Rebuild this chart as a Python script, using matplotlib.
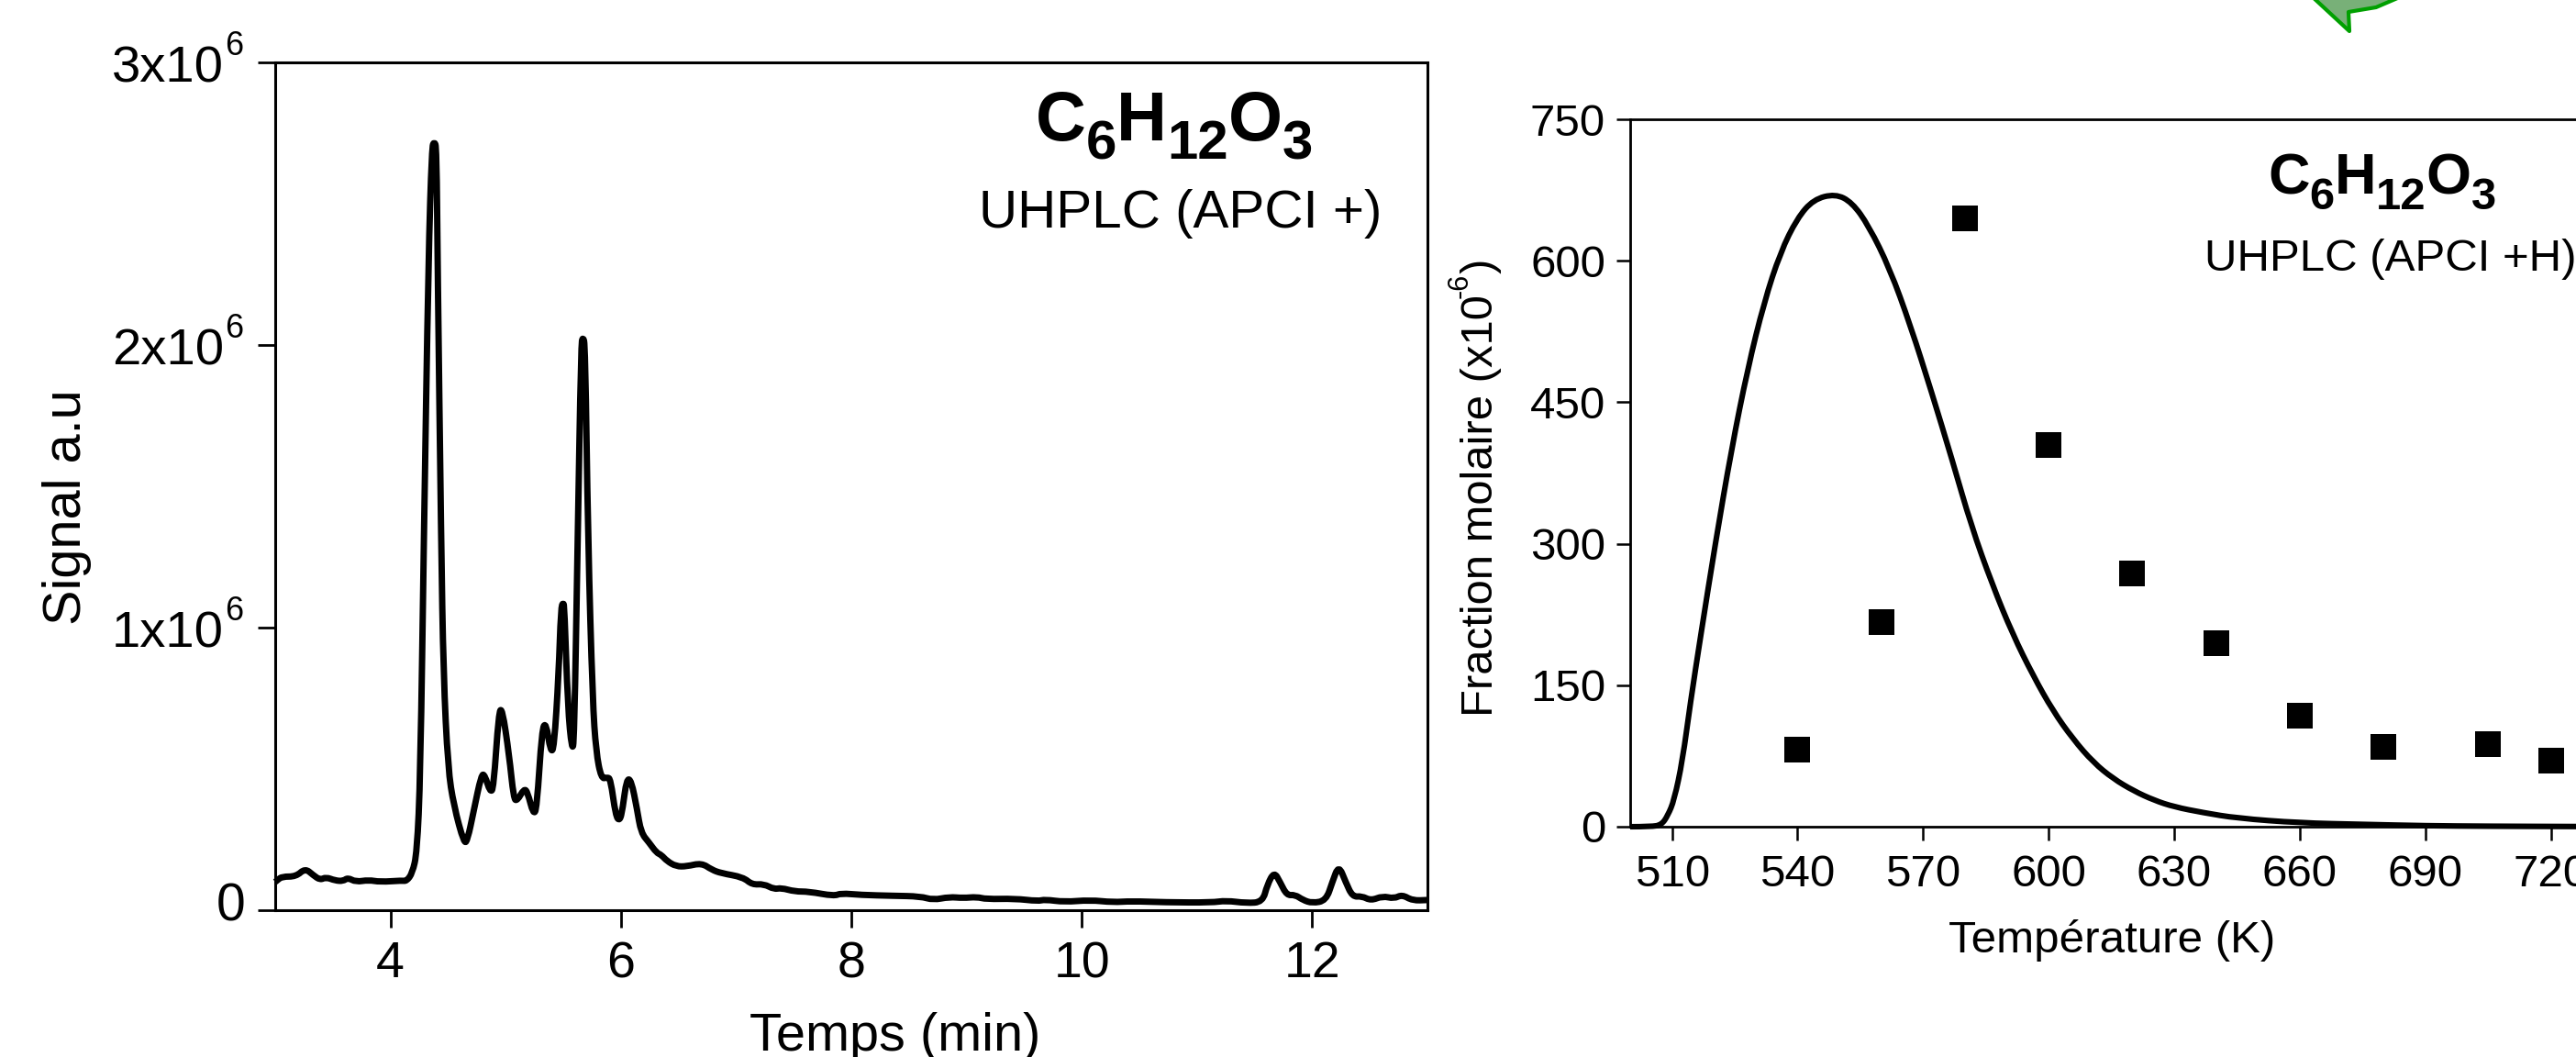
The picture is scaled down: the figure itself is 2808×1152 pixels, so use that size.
import matplotlib
matplotlib.use('Agg')
import matplotlib.pyplot as plt
from matplotlib.patches import PathPatch, Polygon
from matplotlib.path import Path

plt.rcParams['font.family'] = ['Liberation Sans', 'DejaVu Sans']

# chromatogram
tempsMin = [3.0, 3.02, 3.06, 3.18, 3.26, 3.33, 3.39, 3.44, 3.52, 3.59, 3.63, 3.70, 3.81, 3.91, 4.10, 4.14,
            4.19, 4.23, 4.26, 4.29, 4.33, 4.36, 4.38, 4.40, 4.41, 4.44, 4.46, 4.50, 4.55, 4.64, 4.67, 4.72,
            4.79, 4.82, 4.865, 4.895, 4.94, 4.97, 5.03, 5.07, 5.10, 5.16, 5.19, 5.24, 5.27, 5.315, 5.35,
            5.39, 5.42, 5.46, 5.48, 5.50, 5.51, 5.54, 5.575, 5.595, 5.625, 5.655, 5.67, 5.69, 5.715, 5.755,
            5.785, 5.83, 5.88, 5.91, 5.955, 5.99, 6.015, 6.05, 6.09, 6.14, 6.175, 6.245, 6.31, 6.35, 6.40,
            6.48, 6.57, 6.70, 6.79, 6.87, 7.06, 7.14, 7.24, 7.33, 7.39, 7.51, 7.63, 7.85, 7.91, 8.08, 8.36,
            8.6, 8.71, 8.85, 8.97, 9.09, 9.17, 9.42, 9.62, 9.68, 9.85, 10.07, 10.27, 10.43, 10.72, 11.13,
            11.25, 11.43, 11.57, 11.61, 11.67, 11.72, 11.78, 11.85, 11.92, 12.0, 12.12, 12.175, 12.23, 12.29,
            12.35, 12.43, 12.51, 12.61, 12.71, 12.78, 12.87, 13.0]
signal = [.10, .107, .119, .119, .148, .124, .107, .117, .105, .103, .115, .100, .107, .100, .105, .103,
          .131, .203, .477, 1.31, 2.31, 2.70, 2.72, 2.70, 2.27, 1.31, .835, .50, .37, .234, .25, .346,
          .482, .477, .418, .43, .70, .715, .55, .394, .387, .43, .418, .339, .358, .640, .665,
          .56, .573, .835, 1.07, 1.09, 1.07, .716, .566, .597, 1.31, 2.0, 2.03, 2.0, 1.31, .74,
          .56, .465, .47, .465, .334, .315, .358, .465, .46, .358, .274, .239, .203, .196, .174,
          .155, .155, .167, .143, .131, .117, .09, .093, .074, .079, .066, .066, .05, .06, .054, .051,
          .049, .036, .047, .043, .047, .039, .041, .032, .038, .029, .036, .028, .032, .028, .027,
          .034, .025, .029, .09, .136, .10, .052, .055, .036, .025, .034, .10, .16, .10,
          .047, .05, .034, .05, .041, .055, .034, .036]
xTicksLeft = [4, 6, 8, 10, 12]
yTicksLeft = [0, 1, 2, 3]

# model curve and measured points, right panel
tempK = [500, 505, 507.5, 509, 510.5, 512.5, 514.4, 516.9, 520.3, 524.2, 528.1, 532, 535.9, 539.9, 543.8, 549,
         553, 557, 562, 567, 572, 577, 581.5, 586.5, 591.4, 596.3, 601, 605.8, 610.7, 615.4,
         620.3, 625.2, 630, 636.8, 645, 660, 675, 690, 705, 726]
fractionModel = [0, 0, 2, 12, 28, 70, 132, 204, 299, 400, 486, 556, 609, 645, 665, 671,
                 662, 637, 592, 531, 461, 388, 319, 257, 204, 160, 123, 93, 68, 51,
                 38, 28, 21, 15, 9, 4, 2.5, 1, .5, .2]
tempPoints = [540, 560, 580, 600, 620, 640, 660, 680, 705, 720]
fractionPoints = [82, 217, 645, 405, 268, 195, 118, 85, 88, 70]
xTicksRight = [510, 540, 570, 600, 630, 660, 690, 720]
yTicksRight = [0, 150, 300, 450, 600, 750]

formula = [('C', 0), ('6', 1), ('H', 0), ('12', 1), ('O', 0), ('3', 1)]
advance = {'C': .722, 'H': .722, 'O': .778}

W, H = 2808, 1152
PT = 0.72  # px to pt at dpi 100
fig = plt.figure(figsize=(W / 100, H / 100), dpi=100)


def addAxes(left, top, right, bottom):
    return fig.add_axes([left / W, 1 - bottom / H, (right - left) / W, (bottom - top) / H])


def figText(x, y, s, **kw):
    return fig.text(x / W, 1 - y / H, s, **kw)


def smoothLine(ax, x, y, lw):
    # rounds the corners between the read points
    verts = [(x[0], y[0])]
    codes = [Path.MOVETO]
    for i in range(1, len(x) - 1):
        verts += [(x[i], y[i]), ((x[i] + x[i + 1]) / 2, (y[i] + y[i + 1]) / 2)]
        codes += [Path.CURVE3, Path.CURVE3]
    verts.append((x[-1], y[-1]))
    codes.append(Path.LINETO)
    ax.add_patch(PathPatch(Path(verts, codes), fc='none', ec='k', lw=lw, joinstyle='round', clip_on=False))


def drawFormula(x, base, emMain, emSub, drop):
    for part, isSub in formula:
        if isSub:
            figText(x, base + drop, part, fontsize=emSub * PT, fontweight='bold', va='baseline')
            x += .556 * emSub * len(part)
        else:
            figText(x, base, part, fontsize=emMain * PT, fontweight='bold', va='baseline')
            x += advance[part] * emMain


ax1 = addAxes(300, 68, 1556, 992)
smoothLine(ax1, tempsMin, signal, 5.0)
ax1.set_xlim(3, 13)
ax1.set_ylim(0, 3)
ax1.set_xticks(xTicksLeft)
ax1.set_yticks(yTicksLeft)
ax1.set_yticklabels([])
ax1.tick_params(length=14, width=2, labelsize=40, pad=10)
for s in ax1.spines.values():
    s.set_linewidth(2.2)
yTrans = ax1.get_yaxis_transform()
for v in yTicksLeft:
    if v == 0:
        ax1.annotate('0', xy=(0, v), xycoords=yTrans, xytext=(-33 * PT, -11 * PT), textcoords='offset points',
                     fontsize=41, ha='right', va='baseline', annotation_clip=False)
    else:
        ax1.annotate('%dx10' % v, xy=(0, v), xycoords=yTrans, xytext=(-56 * PT, -21 * PT),
                     textcoords='offset points', fontsize=40.5, ha='right', va='baseline', annotation_clip=False)
        ax1.annotate('6', xy=(0, v), xycoords=yTrans, xytext=(-55 * PT, 8 * PT), textcoords='offset points',
                     fontsize=26, ha='left', va='baseline', annotation_clip=False)
figText(976, 1145, 'Temps (min)', fontsize=41.5, ha='center', va='baseline')
figText(73, 553, 'Signal a.u', fontsize=41.5, rotation=90, ha='center', va='center')
drawFormula(1129, 153, 76, 60, 20)
figText(1067, 248, 'UHPLC (APCI +)', fontsize=42, va='baseline')

ax2 = addAxes(1777, 130, 2808, 901)
smoothLine(ax2, tempK, fractionModel, 4.4)
ax2.plot(tempPoints, fractionPoints, ls='none', marker='s', ms=20.5, mfc='k', mec='k', mew=0)
ax2.set_xlim(500, 726)
ax2.set_ylim(0, 750)
ax2.set_xticks(xTicksRight)
ax2.set_yticks(yTicksRight)
ax2.tick_params(length=11, width=1.8, labelsize=35.5)
ax2.tick_params(axis='x', pad=10.5)
ax2.tick_params(axis='y', pad=8.5)
ax2.spines['right'].set_visible(False)
for s in ['left', 'bottom', 'top']:
    ax2.spines[s].set_linewidth(2)
figText(2302, 1038, 'Température (K)', fontsize=35.5, ha='center', va='baseline')
figText(1627, 781, 'Fraction molaire (x10', fontsize=35.3, rotation=90, rotation_mode='anchor',
        ha='left', va='baseline')
figText(1600, 325, '-6', fontsize=22, rotation=90, rotation_mode='anchor', ha='left', va='baseline')
figText(1627, 298, ')', fontsize=35.3, rotation=90, rotation_mode='anchor', ha='left', va='baseline')
drawFormula(2472, 211, 63, 49, 17)
figText(2403, 295, 'UHPLC (APCI +H)', fontsize=35.5, va='baseline')

# end of the green arrow cut off by the top edge
arrow = [(2520, -4), (2561, 34), (2560, 13), (2590, 8), (2618, -4)]
fig.add_artist(Polygon([(x / W, 1 - y / H) for x, y in arrow], closed=True, transform=fig.transFigure,
                       fc='#78B078', ec='#00A000', lw=3, joinstyle='round'))

plt.savefig('out.png', dpi=100)
